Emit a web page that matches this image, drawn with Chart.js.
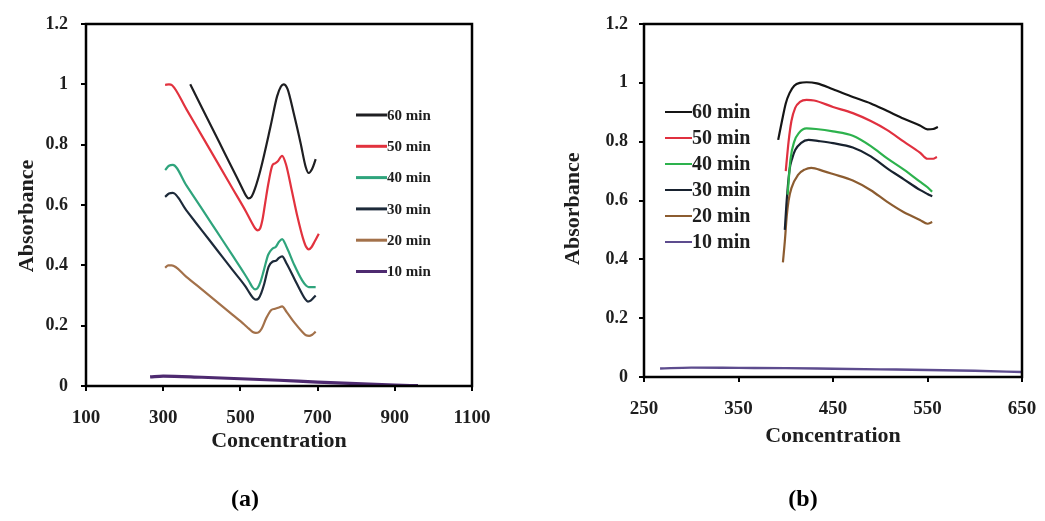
<!DOCTYPE html>
<html>
<head>
<meta charset="utf-8">
<script src="https://cdn.jsdelivr.net/npm/chart.js@4.4.1/dist/chart.umd.min.js"></script>
<style>
  html, body { margin: 0; padding: 0; background: #fff; }
  body { width: 1045px; height: 521px; position: relative; overflow: hidden; }
  .panel { position: absolute; top: 0; height: 521px; }
  #wrapA { left: 0; width: 520px; }
  #wrapB { left: 520px; width: 525px; }
</style>
</head>
<body>
<div class="panel" id="wrapA"><canvas id="chartA" width="520" height="521"></canvas></div>
<div class="panel" id="wrapB"><canvas id="chartB" width="525" height="521"></canvas></div>
<script>
// Series names shared by both panels
const seriesLabels = ['60 min', '50 min', '40 min', '30 min', '20 min', '10 min'];

// Axis ticks
const yTicks = [0, 0.2, 0.4, 0.6, 0.8, 1, 1.2];
const xTicksA = [100, 300, 500, 700, 900, 1100];
const xTicksB = [250, 350, 450, 550, 650];

// Panel (a) spectra
const a60x = [370, 400, 430, 460, 490, 505, 514, 521, 529, 538, 552, 578, 595, 605, 612, 622, 638, 656, 669, 677, 686, 695];
const a60y = [1.0, 0.923, 0.847, 0.77, 0.694, 0.655, 0.632, 0.622, 0.628, 0.655, 0.716, 0.86, 0.96, 0.993, 1.0, 0.985, 0.905, 0.805, 0.727, 0.706, 0.72, 0.752];
const a50x = [305, 315, 323, 360, 400, 440, 480, 515, 528, 538, 545, 551, 557, 564, 572, 583, 590, 597, 608, 618, 632, 648, 662, 670, 677, 684, 692, 703];
const a50y = [0.998, 1.0, 0.997, 0.918, 0.83, 0.742, 0.654, 0.577, 0.545, 0.523, 0.516, 0.522, 0.55, 0.605, 0.668, 0.732, 0.738, 0.745, 0.763, 0.735, 0.655, 0.56, 0.49, 0.462, 0.453, 0.46, 0.478, 0.505];
const a40x = [305, 315, 325, 360, 400, 440, 480, 510, 522, 531, 538, 545, 552, 560, 572, 583, 592, 600, 608, 620, 640, 660, 670, 677, 695];
const a40y = [0.716, 0.73, 0.733, 0.665, 0.588, 0.51, 0.432, 0.373, 0.348, 0.328, 0.32, 0.325, 0.345, 0.38, 0.435, 0.455, 0.462, 0.478, 0.487, 0.46, 0.4, 0.35, 0.333, 0.328, 0.328];
const a30x = [305, 315, 325, 360, 400, 440, 480, 512, 524, 533, 540, 547, 554, 562, 573, 583, 592, 600, 608, 620, 640, 660, 668, 675, 682, 695];
const a30y = [0.627, 0.638, 0.64, 0.582, 0.516, 0.45, 0.384, 0.332, 0.308, 0.292, 0.286, 0.29, 0.308, 0.34, 0.395, 0.412, 0.415, 0.425, 0.43, 0.405, 0.355, 0.305, 0.288, 0.28, 0.283, 0.3];
const a20x = [305, 313, 322, 360, 400, 440, 480, 510, 522, 532, 540, 547, 555, 567, 580, 590, 600, 608, 620, 640, 660, 670, 678, 686, 695];
const a20y = [0.392, 0.4, 0.4, 0.362, 0.32, 0.278, 0.236, 0.204, 0.19, 0.179, 0.176, 0.178, 0.19, 0.225, 0.252, 0.256, 0.26, 0.264, 0.245, 0.21, 0.18, 0.168, 0.166, 0.17, 0.18];
const a10x = [266, 300, 400, 500, 600, 700, 800, 900, 960];
const a10y = [0.03, 0.033, 0.029, 0.024, 0.019, 0.013, 0.008, 0.003, 0.001];

// Panel (b) spectra
const b60x = [392, 396, 400, 404, 409, 415, 422, 433, 450, 471, 490, 507, 525, 542, 550, 556, 561];
const b60y = [0.806, 0.87, 0.93, 0.965, 0.99, 1.0, 1.002, 0.998, 0.978, 0.952, 0.93, 0.905, 0.878, 0.855, 0.842, 0.843, 0.85];
const b50x = [400, 403, 406, 410, 415, 422, 430, 450, 471, 490, 507, 525, 542, 550, 556, 560];
const b50y = [0.70, 0.80, 0.87, 0.915, 0.935, 0.942, 0.94, 0.918, 0.897, 0.87, 0.84, 0.8, 0.763, 0.742, 0.742, 0.748];
const b40x = [402, 405, 409, 414, 422, 432, 450, 471, 490, 507, 525, 542, 550, 555];
const b40y = [0.62, 0.74, 0.8, 0.83, 0.845, 0.843, 0.835, 0.82, 0.785, 0.744, 0.705, 0.664, 0.645, 0.63];
const b30x = [399, 401, 404, 407, 410, 416, 424, 435, 450, 471, 490, 507, 525, 542, 550, 555];
const b30y = [0.5, 0.6, 0.704, 0.745, 0.772, 0.795, 0.806, 0.802, 0.795, 0.78, 0.75, 0.71, 0.672, 0.636, 0.622, 0.614];
const b20x = [397, 399, 401, 403, 406, 413, 420, 427, 440, 450, 471, 490, 507, 525, 542, 550, 555];
const b20y = [0.39, 0.46, 0.545, 0.6, 0.642, 0.687, 0.705, 0.711, 0.7, 0.69, 0.668, 0.635, 0.596, 0.56, 0.534, 0.521, 0.527];
const b10x = [267, 300, 350, 400, 450, 500, 550, 600, 650];
const b10y = [0.029, 0.032, 0.031, 0.03, 0.028, 0.026, 0.024, 0.021, 0.017];

const SERIF = "'Liberation Serif', 'Times New Roman', serif";
const INK = '#1e1e1e';

// Plot frame around the chart area
const framePlugin = {
  id: 'frame',
  afterDraw(chart, args, opts) {
    const { ctx, chartArea: a } = chart;
    ctx.save();
    ctx.strokeStyle = '#000';
    ctx.lineWidth = opts.width;
    ctx.strokeRect(a.left, a.top, a.right - a.left, a.bottom - a.top);
    ctx.restore();
  }
};

// Legend drawn inside the plot: short line followed by the series name
const inlineLegend = {
  id: 'inlineLegend',
  afterDraw(chart, args, o) {
    const ctx = chart.ctx;
    ctx.save();
    ctx.font = 'bold ' + o.size + 'px ' + SERIF;
    ctx.textBaseline = 'middle';
    chart.data.datasets.forEach((ds, i) => {
      const y = o.y0 + i * o.dy;
      ctx.strokeStyle = ds.borderColor;
      ctx.lineWidth = o.lineWidth;
      ctx.beginPath();
      ctx.moveTo(o.x0, y);
      ctx.lineTo(o.x0 + o.len, y);
      ctx.stroke();
      ctx.fillStyle = INK;
      ctx.fillText(ds.label, o.x0 + o.len, y + 1);
    });
    ctx.restore();
  }
};

// Panel caption under each chart
const captionPlugin = {
  id: 'caption',
  afterDraw(chart, args, o) {
    const ctx = chart.ctx;
    ctx.save();
    ctx.font = 'bold ' + o.size + 'px ' + SERIF;
    ctx.fillStyle = '#000';
    ctx.textAlign = 'center';
    ctx.textBaseline = 'middle';
    ctx.fillText(o.text, o.x, o.y);
    ctx.restore();
  }
};

function makeChart(id, cfg) {
  const datasets = cfg.series.map((s, i) => ({
    label: seriesLabels[i],
    data: s.x.map((x, k) => ({ x: x, y: s.y[k] })),
    borderColor: cfg.colors[i],
    borderWidth: cfg.widths[i],
    pointRadius: 0,
    cubicInterpolationMode: 'monotone',
    fill: false
  }));
  const tickGrid = { drawOnChartArea: false, drawTicks: true, tickLength: 5, color: '#000', lineWidth: 2 };
  return new Chart(document.getElementById(id), {
    type: 'line',
    data: { datasets: datasets },
    options: {
      responsive: false,
      animation: false,
      layout: { padding: { left: 0, top: 24, right: cfg.padRight, bottom: 61 } },
      plugins: {
        legend: { display: false },
        tooltip: { enabled: false },
        frame: { width: 2.5 },
        inlineLegend: cfg.legend,
        caption: cfg.caption
      },
      scales: {
        x: {
          type: 'linear',
          min: cfg.xTicks[0],
          max: cfg.xTicks[cfg.xTicks.length - 1],
          afterBuildTicks: s => { s.ticks = cfg.xTicks.map(v => ({ value: v })); },
          afterFit: s => { s.height = cfg.xAxisH; s.paddingLeft = 0; s.paddingRight = 0; },
          grid: tickGrid,
          border: { display: false },
          ticks: { font: { family: SERIF, size: 19, weight: 'bold' }, color: INK, padding: 16,
                   maxRotation: 0, autoSkip: false, callback: v => String(v) },
          title: { display: true, text: 'Concentration', color: INK,
                   font: { family: SERIF, size: 22, weight: 'bold' },
                   padding: { top: 0, bottom: cfg.xTitlePad } }
        },
        y: {
          min: 0,
          max: 1.2,
          afterBuildTicks: s => { s.ticks = yTicks.map(v => ({ value: v })); },
          afterFit: s => { s.width = cfg.yAxisW; },
          grid: tickGrid,
          border: { display: false },
          ticks: { font: { family: SERIF, size: 18, weight: 'bold' }, color: INK, padding: cfg.yTickPad,
                   callback: v => String(v) },
          title: { display: true, text: cfg.yTitle, color: INK,
                   font: { family: SERIF, size: 22, weight: 'bold' },
                   padding: { top: cfg.yTitlePad, bottom: 0 } }
        }
      }
    },
    plugins: [framePlugin, inlineLegend, captionPlugin]
  });
}

makeChart('chartA', {
  series: [
    { x: a60x, y: a60y }, { x: a50x, y: a50y }, { x: a40x, y: a40y },
    { x: a30x, y: a30y }, { x: a20x, y: a20y }, { x: a10x, y: a10y }
  ],
  colors: ['#1f1f22', '#e2323e', '#2fa47c', '#1d2a3a', '#a3714a', '#4e2a70'],
  widths: [2.2, 2.2, 2.2, 2.2, 2.2, 3.2],
  xTicks: xTicksA,
  padRight: 48,
  xAxisH: 74,
  yAxisW: 86,
  yTickPad: 13,
  xTitlePad: 5,
  yTitlePad: 14,
  yTitle: 'Absorbance    ',
  legend: { x0: 356, y0: 115, dy: 31.3, len: 31, lineWidth: 3, size: 15 },
  caption: { text: '(a)', x: 245, y: 500, size: 24 }
});

makeChart('chartB', {
  series: [
    { x: b60x, y: b60y }, { x: b50x, y: b50y }, { x: b40x, y: b40y },
    { x: b30x, y: b30y }, { x: b20x, y: b20y }, { x: b10x, y: b10y }
  ],
  colors: ['#151515', '#e0303f', '#2db24d', '#18222f', '#8c5c30', '#5d4c8e'],
  widths: [2.2, 2.2, 2.2, 2.2, 2.2, 2.4],
  xTicks: xTicksB,
  padRight: 23,
  xAxisH: 83,
  yAxisW: 124,
  yTickPad: 11,
  xTitlePad: 10,
  yTitlePad: 40,
  yTitle: 'Absorbance   ',
  legend: { x0: 145, y0: 112, dy: 26, len: 27, lineWidth: 2, size: 20 },
  caption: { text: '(b)', x: 283, y: 500, size: 24 }
});
</script>
</body>
</html>
